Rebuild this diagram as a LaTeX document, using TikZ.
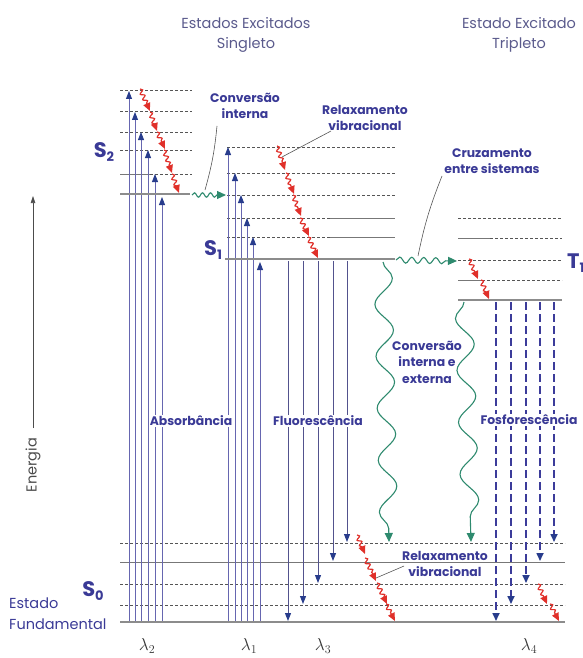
\documentclass[tikz,border=0pt]{standalone}
\usepackage{fontspec}
\setmainfont{Poppins}
\usetikzlibrary{arrows.meta,decorations.pathmorphing}
\definecolor{lbl}{HTML}{3A3A96}
\definecolor{ttl}{HTML}{5A5A8C}
\definecolor{absl}{HTML}{6666B0}
\definecolor{ahead}{HTML}{283C8C}
\definecolor{grnw}{HTML}{2E8A6E}
\definecolor{redr}{HTML}{E0302A}
\definecolor{gnd}{HTML}{8C8C8C}
\definecolor{vib}{HTML}{555555}
\definecolor{phos}{HTML}{3C3C9A}
\definecolor{lead}{HTML}{555555}
\begin{document}
\begin{tikzpicture}[x=1pt,y=-1pt,
  ground/.style={draw=gnd, line width=2.8pt},
  vlev/.style={draw=vib, line width=1pt, dash pattern=on 3pt off 2pt},
  vsol/.style={draw=vib!80, line width=0.8pt},
  absarr/.style={draw=absl, line width=0.9pt, -{Triangle[length=8pt,width=6pt,color=ahead]}},
  fluarr/.style={draw=absl!80!black, line width=1pt, -{Triangle[length=8pt,width=6pt,color=ahead]}},
  phosarr/.style={draw=phos, line width=1.6pt, dash pattern=on 8pt off 4pt, -{Triangle[length=8pt,width=7pt,color=ahead]}},
  relax/.style={draw=redr, line width=1.2pt, decorate, decoration={snake, amplitude=2pt, segment length=6pt, pre length=0pt, post length=7pt}, -{Triangle[length=8pt,width=7pt,color=redr]}},
  wavyh/.style={draw=grnw, line width=1.1pt, decorate, decoration={snake, amplitude=3pt, segment length=12pt, post length=6pt}, -{Triangle[length=9pt,width=8pt,color=grnw]}},
  wavyv/.style={draw=grnw, line width=1.1pt, decorate, decoration={snake, amplitude=9pt, segment length=52pt, post length=8pt}, -{Triangle[length=9pt,width=8pt,color=grnw]}},
  leader/.style={draw=lead, line width=0.6pt},
  boldlbl/.style={text=lbl, font=\fontsize{12.4}{16.5}\selectfont\bfseries, align=center, inner sep=1pt},
  boxlbl/.style={boldlbl, fill=white},
  titlelbl/.style={text=ttl, font=\fontsize{14.5}{20}\selectfont, align=center},
  slbl/.style={text=lbl, font=\fontsize{21}{21}\selectfont\bfseries, inner sep=0pt},
  lamlbl/.style={text=black!80, font=\fontsize{17}{17}\selectfont, inner sep=0pt}
]
\useasboundingbox (0,0) rectangle (583,658);

% titles
\node[titlelbl] (tsing) at (246,35) {Estados Excitados\\Singleto};
\node[titlelbl] (ttrip) at (519,35) {Estado Excitado\\Tripleto};

% energy axis
\coordinate (eb) at (33,428);
\coordinate (et) at (33,196);
\draw[draw=black!70, line width=0.6pt, -{Triangle[length=7pt,width=4.5pt]}] (eb) -- (et);
\node[rotate=90, text=black!70, font=\fontsize{14.5}{14.5}\selectfont] (energ) at (33,465) {Energia};

% S0 levels
\draw[vlev] (120,543) -- (565,543);
\draw[vsol] (120,562) -- (565,562);
\draw[vlev] (120,584) -- (565,584);
\draw[vlev] (120,605) -- (565,605);
% S2 levels
\foreach \y in {91,112,132,150} \draw[vlev] (120,\y) -- (192,\y);
\draw[vsol] (120,174) -- (150,174);
\draw[vlev] (150,174) -- (192,174);
% S1 levels
\foreach \y in {147,173,195} \draw[vlev] (227,\y) -- (395,\y);
\draw[vlev] (227,218) -- (330,218);
\draw[vsol] (330,218) -- (395,218);
\draw[vlev] (227,237) -- (330,237);
\draw[vsol] (330,237) -- (395,237);
% T1 levels
\draw[vlev] (458,218) -- (562,218);
\draw[vsol] (458,238) -- (490,238);
\draw[vlev] (490,238) -- (562,238);
\draw[vlev] (458,260) -- (562,260);
\draw[vsol] (458,280) -- (482,280);
\draw[vlev] (482,280) -- (562,280);

% absorption arrows
\foreach \x/\y in {129/91,135/112,141/132,148/150,155/174,162/197}
  \draw[absarr] (\x,622) -- (\x,\y);
\foreach \x/\y in {228/147,235/173,241/195,247/218,253/237,260/262}
  \draw[absarr] (\x,622) -- (\x,\y);
% fluorescence
\foreach \x/\y in {288/621,303/604,318/583,333/561,347/542}
  \draw[fluarr] (\x,261) -- (\x,\y);
% phosphorescence
\foreach \x/\y in {496/621,511/604,526/583,540/561,554/542}
  \draw[phosarr] (\x,302) -- (\x,\y);

% ground lines
\coordinate (s0l) at (120,622); \coordinate (s0r) at (565,622);
\draw[ground] (s0l) -- (s0r);
\coordinate (s2l) at (120,194); \coordinate (s2r) at (190,194);
\draw[ground] (s2l) -- (s2r);
\coordinate (s1l) at (225,259); \coordinate (s1r) at (395,259);
\draw[ground] (s1l) -- (s1r);
\coordinate (t1l) at (458,300); \coordinate (t1r) at (562,300);
\draw[ground] (t1l) -- (t1r);

% vibrational relaxation (red)
\foreach \a/\b/\c/\d in {140/89/150/111, 150/112/157/131, 157/132/165/149, 164/150/172/173, 172/174/179/193,
  277/146/285/170, 286/173/294/194, 293/195/301/216, 300/218/309/236, 308/237/318/258,
  469/259/478/279, 481/280/489/299,
  357/535/365/554, 365/558/376/581, 377/583/387/604, 386/604/395/621,
  538/584/547/604, 550/604/559/621}
  \draw[relax] (\a,\b) -- (\c,\d);

% green wavy connectors
\coordinate (ic1) at (192,195); \coordinate (ic2) at (226,195);
\draw[wavyh, decoration={snake, amplitude=2.2pt, segment length=8pt, post length=6pt}] (ic1) -- (ic2);
\coordinate (isc1) at (396,260); \coordinate (isc2) at (457,261);
\draw[wavyh] (isc1) -- (isc2);
\coordinate (iec1) at (383,262); \coordinate (iec2) at (389,542);
\draw[wavyv] (iec1) -- (iec2);
\coordinate (tg1) at (464,302); \coordinate (tg2) at (471,542);
\draw[wavyv, decoration={mirror}] (tg1) -- (tg2);

% labels
\node[boxlbl] (labs) at (191,421) {Absorbância};
\node[boxlbl] (lflu) at (318,421) {Fluorescência};
\node[boxlbl] (lfos) at (529,420) {Fosforescência};
\node[boldlbl] (lic) at (245,106) {Conversão\\interna};
\node[boldlbl] (lrv) at (365,118) {Relaxamento\\vibracional};
\node[boldlbl] (lisc) at (492,161) {Cruzamento\\entre sistemas};
\node[boldlbl] (liec) at (427,362) {Conversão\\interna e\\externa};
\node[boldlbl] (lrv2) at (445,564) {Relaxamento\\vibracional};

% leaders
\coordinate (p1) at (205,190);
\coordinate (q1) at (217,126);
\draw[leader] (q1) to[bend left=5] (p1);
\coordinate (p2) at (282,157);
\coordinate (q2) at (331,131);
\draw[leader] (q2) -- (p2);
\coordinate (p3) at (418,256);
\coordinate (q3) at (442,176);
\draw[leader] (q3) to[bend right=5] (p3);
\coordinate (p4) at (376,578);
\coordinate (q4) at (404,566);
\draw[leader] (q4) -- (p4);

% state labels
\node[slbl] (S2) at (104,152) {S\raisebox{-4pt}{\fontsize{13}{13}\selectfont 2}};
\node[slbl] (S1) at (213,250) {S\raisebox{-4pt}{\fontsize{13}{13}\selectfont 1}};
\node[slbl] (S0) at (93,591) {S\raisebox{-4pt}{\fontsize{13}{13}\selectfont 0}};
\node[slbl, anchor=west] (T1) at (567,263) {T\raisebox{-4pt}{\fontsize{13}{13}\selectfont 1}};
\node[text=lbl, font=\fontsize{14.5}{21}\selectfont, align=left, anchor=west, inner sep=0pt] (ef) at (9,614) {Estado\\Fundamental};

% wavelengths
\node[lamlbl] (l2) at (147,646) {$\lambda_2$};
\node[lamlbl] (l1) at (249,646) {$\lambda_1$};
\node[lamlbl] (l3) at (323,646) {$\lambda_3$};
\node[lamlbl] (l4) at (529,646) {$\lambda_4$};
\end{tikzpicture}
\end{document}
